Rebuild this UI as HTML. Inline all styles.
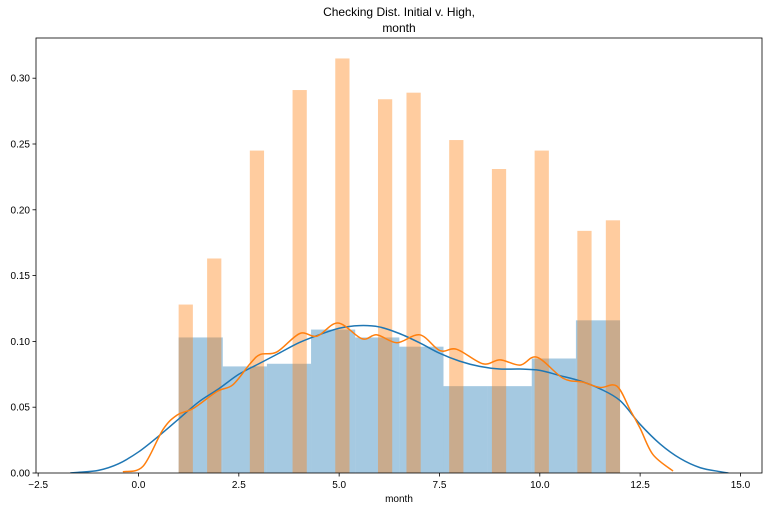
<!DOCTYPE html>
<html><head><meta charset="utf-8"><style>
body{margin:0;background:#fff;}
svg{display:block;font-family:"Liberation Sans","DejaVu Sans",sans-serif;}
</style></head><body>
<svg id="chart" width="772" height="511">
<rect width="772" height="511" fill="#fff"/>
<text x="399" y="16" text-anchor="middle" font-size="12">Checking Dist. Initial v. High,</text>
<text x="399" y="32" text-anchor="middle" font-size="12">month</text>
<g id="plot"></g>
<text x="399" y="502" text-anchor="middle" font-size="10">month</text>
</svg>
<script>
const blueEdges=[1,2.1,3.2,4.3,5.4,6.5,7.6,8.7,9.8,10.9,12];
const blueHist=[0.103,0.081,0.083,0.109,0.103,0.096,0.066,0.066,0.087,0.116];
const months=[1,2,3,4,5,6,7,8,9,10,11,12];
const orangeHist=[0.128,0.163,0.245,0.291,0.315,0.284,0.289,0.253,0.231,0.245,0.184,0.192];
const orangeBins=31;
const blueKdeX=[-1.7,-1.5,-1,-0.5,0,0.5,1,1.5,2,2.5,3,3.5,4,4.5,5,5.5,6,6.5,7,7.5,8,8.5,9,9.5,10,10.5,11,11.5,12,12.5,13,13.5,14,14.5,14.7];
const blueKdeY=[0,0.0005,0.002,0.007,0.016,0.028,0.041,0.054,0.064,0.075,0.083,0.091,0.099,0.105,0.110,0.112,0.111,0.106,0.099,0.091,0.085,0.081,0.079,0.079,0.078,0.074,0.070,0.064,0.055,0.037,0.022,0.011,0.004,0.001,0];
const orangeKdeX=[-0.39,0.11,0.61,0.96,1.36,1.96,2.35,2.78,3.03,3.45,4.02,4.45,4.97,5.57,5.94,6.44,7.01,7.51,7.93,8.58,9.01,9.51,9.93,10.58,11.08,11.5,11.92,12.25,12.5,12.82,13.32];
const orangeKdeY=[0.001,0.005,0.033,0.044,0.049,0.062,0.067,0.083,0.090,0.092,0.106,0.104,0.114,0.102,0.105,0.099,0.105,0.093,0.094,0.083,0.086,0.082,0.088,0.072,0.069,0.065,0.066,0.048,0.034,0.014,0.0015];
const xTicks=[-2.5,0,2.5,5,7.5,10,12.5,15];
const xTickLabels=["−2.5","0.0","2.5","5.0","7.5","10.0","12.5","15.0"];
const yTicks=[0,0.05,0.1,0.15,0.2,0.25,0.3];
const yTickLabels=["0.00","0.05","0.10","0.15","0.20","0.25","0.30"];

const L=36,R=762,T=38,B=473;
const X=v=>138.5+v*40.13;
const Y=v=>B-v*1316;
const NS="http://www.w3.org/2000/svg";
const g=document.getElementById('plot');
function mk(tag,attrs){const e=document.createElementNS(NS,tag);for(const k in attrs)e.setAttribute(k,attrs[k]);g.appendChild(e);return e;}
const defs=mk('clipPath',{id:'clip'});
const cr=document.createElementNS(NS,'rect');cr.setAttribute('x',L);cr.setAttribute('y',T);cr.setAttribute('width',R-L);cr.setAttribute('height',B-T);defs.appendChild(cr);
blueHist.forEach((v,i)=>{
  const r=mk('rect',{x:X(blueEdges[i]),y:Y(v),width:X(blueEdges[i+1])-X(blueEdges[i]),height:B-Y(v),fill:'#1f77b4','fill-opacity':0.4});
  
  
});
const bw=11/orangeBins;
months.forEach((m,i)=>{
  let k=Math.min(orangeBins-1,Math.floor((m-1)/bw+1e-9));
  const x0=1+k*bw;
  const r=mk('rect',{x:X(x0),y:Y(orangeHist[i]),width:X(x0+bw)-X(x0),height:B-Y(orangeHist[i]),fill:'#ff7f0e','fill-opacity':0.4});
  
  
});
function curve(xs,ys){let d='';for(let i=0;i<xs.length;i++){d+=(i?' ':'M')+X(xs[i]).toFixed(1)+','+Y(ys[i]).toFixed(1);if(i==0)d+=' L';}return d;}
function smooth(xs,ys){
  const p=xs.map((x,i)=>[X(x),Y(ys[i])]);let d='M'+p[0][0]+','+p[0][1];
  for(let i=0;i<p.length-1;i++){const p0=p[i-1]||p[i],p1=p[i],p2=p[i+1],p3=p[i+2]||p2;
    d+=` C${p1[0]+(p2[0]-p0[0])/6},${p1[1]+(p2[1]-p0[1])/6} ${p2[0]-(p3[0]-p1[0])/6},${p2[1]-(p3[1]-p1[1])/6} ${p2[0]},${p2[1]}`;}
  return d;}
const bl=mk('path',{d:smooth(blueKdeX,blueKdeY),fill:'none',stroke:'#1f77b4','stroke-width':1.5,'clip-path':'url(#clip)'});


const ol=mk('path',{d:smooth(orangeKdeX,orangeKdeY),fill:'none',stroke:'#ff7f0e','stroke-width':1.5,'clip-path':'url(#clip)'});


const fr=mk('rect',{x:L,y:T,width:R-L,height:B-T,fill:'none',stroke:'#000','stroke-width':0.8});


xTicks.forEach((v,i)=>{
  mk('line',{x1:X(v),x2:X(v),y1:B,y2:B+3.5,stroke:'#000','stroke-width':0.8});
  const t=mk('text',{x:X(v),y:B+15,'text-anchor':'middle','font-size':10});t.textContent=xTickLabels[i];
  
  
});
yTicks.forEach((v,i)=>{
  mk('line',{x1:L-3.5,x2:L,y1:Y(v),y2:Y(v),stroke:'#000','stroke-width':0.8});
  const t=mk('text',{x:L-6,y:Y(v)+3.5,'text-anchor':'end','font-size':10});t.textContent=yTickLabels[i];
  
  
});
</script>
</body></html>
